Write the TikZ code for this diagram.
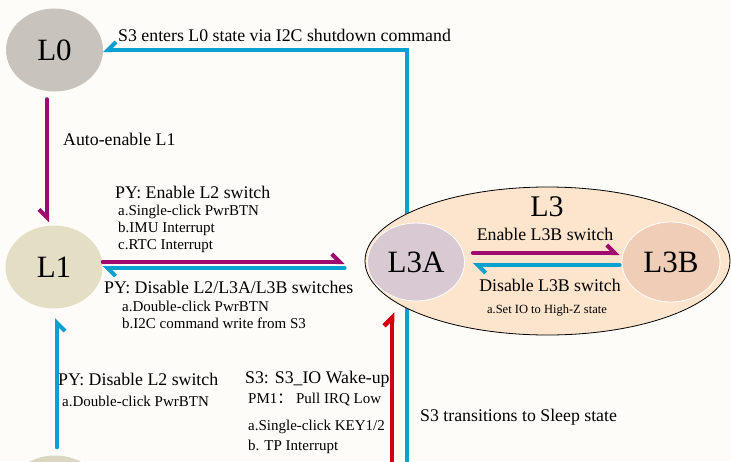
\documentclass[tikz,border=0pt]{standalone}
\usepackage{fontspec}
\setmainfont{Liberation Serif}
\newfontfamily\cjk{Noto Sans CJK SC}
\usetikzlibrary{arrows.meta,shapes.geometric}
\definecolor{bg}{HTML}{FEFCF8}
\definecolor{mag}{HTML}{A00A6E}
\definecolor{cyn}{HTML}{0AA0D0}
\definecolor{rd}{HTML}{D00010}
\definecolor{gzero}{HTML}{C8C4BD}
\definecolor{gone}{HTML}{E4DEC5}
\definecolor{gtwo}{HTML}{DAD6C2}
\definecolor{pch}{HTML}{FCE5CC}
\definecolor{lila}{HTML}{D8C9D2}
\definecolor{lilb}{HTML}{F0CDB7}
\begin{document}
\begin{tikzpicture}[x=1pt,y=-1pt,line cap=round,
  st/.style={ellipse,inner sep=0pt,minimum width=97pt,minimum height=83pt,font=\fontsize{31}{31}\selectfont},
  lbl/.style={anchor=west,inner sep=0pt,font=\fontsize{17.8}{20}\selectfont},
  sub/.style={anchor=west,inner sep=0pt,font=\fontsize{15}{17}\selectfont},
  conn/.style={line width=4pt},
  hl/.style={conn,-{Straight Barb[harpoon,length=8pt,width=16pt]}},
  hr/.style={conn,-{Straight Barb[harpoon,swap,length=8pt,width=16pt]}}]
\fill[bg] (0,0) rectangle (731,461);
\useasboundingbox (0,0) rectangle (731,461);
\node[st,fill=gzero] (l0) at (54.5,50) {L0};
\node[st,fill=gone] (l1) at (54,267) {L1};
\node[st,fill=gtwo] (l2) at (55,497) {};
\coordinate (sleep) at (407,461);
\coordinate (wake) at (392,461);
\draw[hr,cyn] (sleep) |- (l0.east);
\node[ellipse,draw=black,line width=0.8pt,fill=pch,inner sep=0pt,minimum width=365pt,minimum height=148pt] (l3) at (547.5,261) {};
\node[font=\fontsize{30}{30}\selectfont] (l3t) at (547,207) {L3};
\node[st,fill=lila,draw=white,line width=0.8pt,minimum height=78pt] (l3a) at (416,262) {L3A};
\node[st,fill=lilb,draw=white,line width=0.8pt,minimum width=98pt,minimum height=80pt] (l3b) at (671,262) {L3B};
\node[lbl,anchor=center] (en3) at (545,234) {Enable L3B switch};
\node[lbl,anchor=center] (dis3) at (550,285) {Disable L3B switch};
\node[font=\fontsize{12.5}{14}\selectfont] (dis3a) at (547,311) {a.Set IO to High-Z state};
\draw[hl,mag,shorten <=8pt,shorten >=2pt] ([yshift=9pt]l3a.east) -- ([yshift=9pt]l3b.west);
\draw[hl,cyn,shorten <=2pt,shorten >=8pt] ([yshift=-3pt]l3b.west) -- ([yshift=-3pt]l3a.east);
\draw[hr,mag,shorten <=7.5pt,shorten >=3pt] ([xshift=-7.5pt]l0.south) -- ([xshift=-7pt]l1.north);
\draw[hl,mag,shorten >=20pt] ([yshift=5pt]l1.east) -- ([yshift=-1pt]l3.west);
\draw[hl,cyn,shorten <=20pt] ([yshift=-7pt]l3.west) -- ([yshift=-1pt]l1.east);
\draw[hr,cyn,shorten <=8pt,shorten >=9.5pt] ([xshift=2pt]l2.north) -- ([xshift=3pt]l1.south);
\draw[hl,rd,line width=4.5pt,shorten >=11pt] (wake) -- (wake |- l3a.south);
\node[lbl] (t0) at (118,35) {S3 enters L0 state via I2C shutdown command};
\node[lbl] (ta) at (63,139) {Auto-enable L1};
\node[lbl] (en) at (115,192) {PY: Enable L2 switch};
\node[sub] (ena) at (118,212) {a.Single-click PwrBTN};
\node[sub] (enb) at (118,229) {b.IMU Interrupt};
\node[sub] (enc) at (118,246) {c.RTC Interrupt};
\node[lbl] (dis) at (104,287) {PY: Disable L2/L3A/L3B switches};
\node[sub] (disa) at (122,306) {a.Double-click PwrBTN};
\node[sub] (disb) at (122,323) {b.I2C command write from S3};
\node[lbl] (d2) at (58,379) {PY: Disable L2 switch};
\node[sub] (d2a) at (62,401) {a.Double-click PwrBTN};
\node[lbl] (wk) at (245,379) {S3: S3\_IO Wake-up};
\node[sub] (wkp) at (248,400) {PM1{\cjk ：}\ Pull IRQ Low};
\node[sub] (wka) at (248,427) {a.Single-click KEY1/2};
\node[sub] (wkb) at (248,447) {b. TP Interrupt};
\node[lbl] (sl) at (420,417) {S3 transitions to Sleep state};
\end{tikzpicture}
\end{document}
